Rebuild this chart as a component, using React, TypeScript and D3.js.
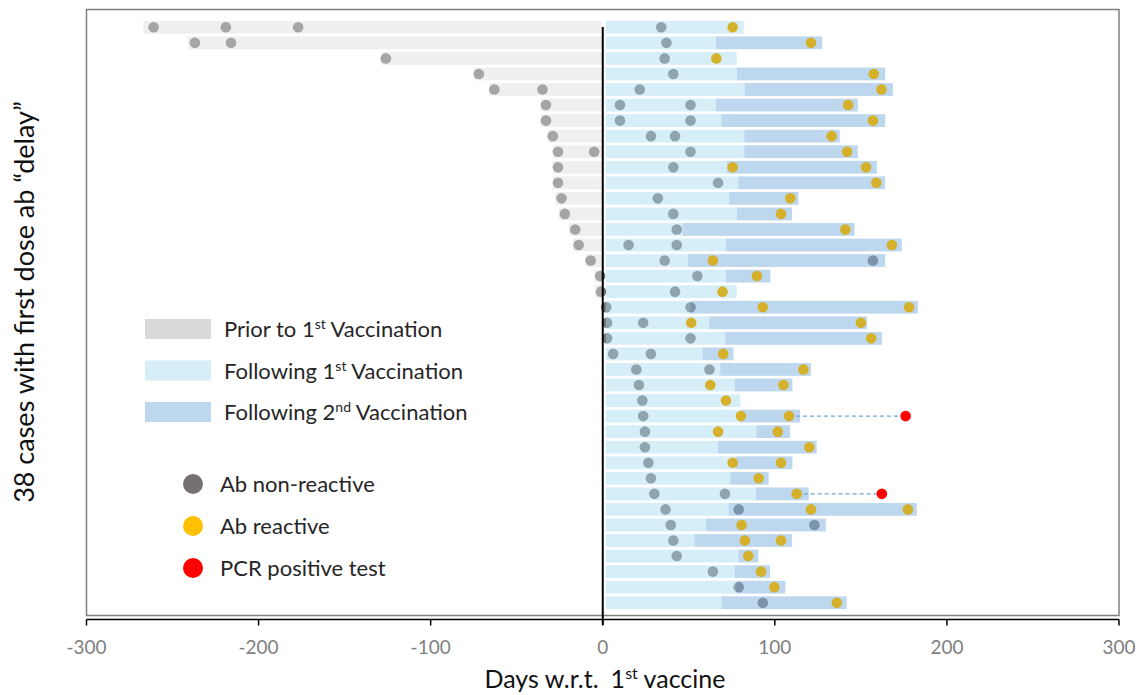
import React from "react";
import * as d3 from "d3";

// ---- data (days with respect to 1st vaccine), one entry per case ----
const priorStart: (number | null)[] = [
  -267, -241, -129, -75, -66, -36, -36, -32, -29, -29, -29, -27.5, -25.5, -19.6, -17.2, -9.8, -4.8, -4.6,
  null, null, null, null, null, null, null, null, null, null, null, null, null, null, null, null, null, null, null, null,
];
const firstEnd: number[] = [
  81.9, 65.8, 77.8, 78, 82.6, 65.8, 69, 82.3, 82.3, 72, 78.8, 73.5, 78, 46.4, 71.6, 49.5, 71.6, 77.8,
  51.2, 61.9, 71.2, 58, 68.3, 76.8, 79.9, 80.3, 89.4, 66.9, 77.4, 74.1, 89, 73.1, 59.9, 53.3, 78.8, 76.8, 77.8, 69,
];
const secondEnd: (number | null)[] = [
  null, 127.5, null, 164.1, 168.6, 148.2, 164.1, 137.7, 148.2, 159.3, 164.1, 113.7, 110, 146.3, 173.8, 164.1, 97.4, null,
  183.1, 153.6, 162.2, 76, 121, 110.2, null, 114.6, 108.8, 124.3, 110.2, 96.4, 119.7, 182.5, 129.6, 110, 90.4, 97.2, 106.1, 141.8,
];
const nonReactive: number[][] = [
  [-261, -219, -177, 34], [-237, -216, 37], [-126, 36], [-72, 41], [-63, -35, 21.5], [-33, 10, 51], [-33, 10, 51],
  [-29, 28, 42], [-26, -5, 51], [-26, 41], [-26, 67], [-24, 32], [-22, 41], [-16, 43], [-14, 15, 43], [-7, 36, 157],
  [-1.5, 55], [-1, 42], [2, 51], [2.5, 23.5], [2.5, 51], [6, 28], [19.5, 62], [21], [23], [23.5], [24.5], [24.5],
  [26.5], [28], [30, 71], [36.5, 79], [39.5, 123], [41], [43], [64], [79], [93],
];
const reactive: number[][] = [
  [75.5], [121], [66], [157.5], [162], [142.6], [157], [133], [142], [75.5, 153], [159], [109], [103.6], [141],
  [168], [64], [89.6], [69.6], [93, 178], [51.4, 150], [156], [70], [116.6], [62.5, 105], [71.6], [80.3, 108.2],
  [67, 101.7], [120], [75.5, 103.6], [90.6], [112.7], [121, 177.3], [80.7], [82.6, 103.6], [84.6], [92], [99.7], [136],
];
const pcrPositive: (number | null)[] = [
  null, null, null, null, null, null, null, null, null, null, null, null, null, null, null, null, null, null, null,
  null, null, null, null, null, null, 176, null, null, null, null, 162.2, null, null, null, null, null, null, null,
];
const xTicks: number[] = [-300, -200, -100, 0, 100, 200, 300];

const legendBars = [
  { base: "Prior to 1", sup: "st", rest: " Vaccination", fill: "#d9d9d9" },
  { base: "Following 1", sup: "st", rest: " Vaccination", fill: "rgb(214,238,248)" },
  { base: "Following 2", sup: "nd", rest: " Vaccination", fill: "rgb(189,215,238)" },
];
const legendDots = [
  { label: "Ab non-reactive", fill: "#767171" },
  { label: "Ab reactive", fill: "#FFC000" },
  { label: "PCR positive test", fill: "#FF0000" },
];

const FONT = "Lato, 'Open Sans', sans-serif";
const W = 1142;
const H = 695;

export default function App() {
  const x = d3.scaleLinear().domain([-300, 300]).range([86.5, 1119]);
  const y = d3.scaleBand<number>().domain(d3.range(firstEnd.length)).range([19.5, 610.5]).padding(0);
  const bh = 12.8;
  const cy = (i: number) => (y(i) as number) + y.bandwidth() / 2;
  const r = 5.3;
  const x0 = x(0);

  return (
    <svg width={W} height={H} style={{ position: "absolute", left: 0, top: 0, display: "block", background: "#fff" }}>
      {/* plot frame */}
      <rect x={86.5} y={9.5} width={1119 - 86.5} height={606} fill="none" stroke="#808080" strokeWidth={1.5} />

      {/* non-reactive dots (under the translucent bars) */}
      {nonReactive.map((row, i) =>
        row.map((d, j) => <circle key={`g${i}-${j}`} cx={x(d)} cy={cy(i)} r={r} fill="#767171" />)
      )}

      {/* bars */}
      {priorStart.map((s, i) =>
        s === null ? null : (
          <rect key={`p${i}`} x={x(s)} y={cy(i) - bh / 2} width={x0 - 1 - x(s)} height={bh} fill="rgba(221,221,221,0.47)" />
        )
      )}
      {firstEnd.map((e, i) => (
        <rect key={`f${i}`} x={x0 + 3} y={cy(i) - bh / 2} width={x(e) - x0 - 3} height={bh} fill="rgba(170,220,241,0.48)" />
      ))}
      {secondEnd.map((e, i) =>
        e === null ? null : (
          <rect key={`s${i}`} x={x(firstEnd[i])} y={cy(i) - bh / 2} width={x(e) - x(firstEnd[i])} height={bh} fill="rgba(130,179,223,0.53)" />
        )
      )}

      {/* dashed link to PCR positive */}
      {pcrPositive.map((p, i) =>
        p === null ? null : (
          <line key={`l${i}`} x1={x(reactive[i][reactive[i].length - 1])} x2={x(p)} y1={cy(i)} y2={cy(i)}
            stroke="#6fa3d8" strokeWidth={1.2} strokeDasharray="4 3" />
        )
      )}

      {/* reactive dots */}
      {reactive.map((row, i) =>
        row.map((d, j) => <circle key={`y${i}-${j}`} cx={x(d)} cy={cy(i)} r={r} fill="#D6AD1A" fillOpacity={0.92} />)
      )}
      {pcrPositive.map((p, i) => (p === null ? null : <circle key={`r${i}`} cx={x(p)} cy={cy(i)} r={r} fill="#FF0000" />))}

      {/* zero line */}
      <line x1={x0} x2={x0} y1={27} y2={625} stroke="#000" strokeWidth={2} />

      {/* x axis */}
      <line x1={86.5} x2={1119} y1={619.5} y2={619.5} stroke="#000" strokeWidth={1.5} />
      {xTicks.map((t) => (
        <g key={`t${t}`}>
          <line x1={x(t)} x2={x(t)} y1={619.5} y2={625.5} stroke="#000" strokeWidth={1.5} />
          <text x={x(t)} y={654} textAnchor="middle" fontFamily={FONT} fontSize={19} fill="#7f7f7f">
            {t}
          </text>
        </g>
      ))}

      {/* axis titles */}
      <text x={605} y={688} textAnchor="middle" fontFamily={FONT} fontSize={25} fill="#111">
        <tspan>Days w.r.t.</tspan>
        <tspan dx={12}>1</tspan>
        <tspan dy={-9} fontSize={16}>st</tspan>
        <tspan dy={9}> vaccine</tspan>
      </text>
      <text transform="translate(34,302) rotate(-90)" textAnchor="middle" fontFamily={FONT} fontSize={27} fill="#111">
        38 cases with first dose ab “delay”
      </text>

      {/* legend */}
      {legendBars.map((l, i) => {
        const ly = 329 + i * 41.5;
        return (
          <g key={`lb${i}`}>
            <rect x={145} y={ly - 10} width={66} height={20} fill={l.fill} />
            <text x={224} y={ly + 8} fontFamily={FONT} fontSize={22} fill="#262626">
              <tspan>{l.base}</tspan>
              <tspan dy={-8} fontSize={14}>{l.sup}</tspan>
              <tspan dy={8}>{l.rest}</tspan>
            </text>
          </g>
        );
      })}
      {legendDots.map((l, i) => {
        const ly = 484 + i * 42;
        return (
          <g key={`ld${i}`}>
            <circle cx={193} cy={ly} r={10} fill={l.fill} />
            <text x={220} y={ly + 8} fontFamily={FONT} fontSize={22} fill="#262626">
              {l.label}
            </text>
          </g>
        );
      })}
    </svg>
  );
}
